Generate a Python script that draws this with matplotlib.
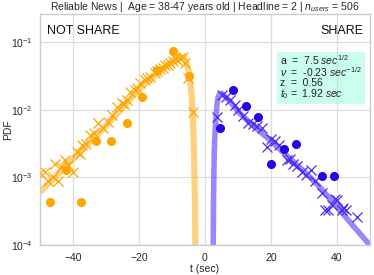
import matplotlib
matplotlib.use('Agg')
import matplotlib.pyplot as plt
import seaborn as sns

# ---- data ----
# NOT SHARE (negative t): empirical points, simulated points, fitted curve
ns_dot_t = [-47.0, -37.7, -42.2, -33.0, -28.4, -23.7, -19.0, -14.5, -9.8, -4.95]
ns_dot_y = [4.3e-4, 4.3e-4, 1.3e-3, 3.45e-3, 3.45e-3, 6.45e-3, 1.55e-2, 3.85e-2, 7.4e-2, 3.2e-2]

ns_x_t = [-50.0, -48.5, -47.5, -46.0, -45.5, -44.4, -43.5, -42.4, -41.5, -39.9, -38.9,
          -38.0, -37.4, -36.2, -34.8, -33.6, -32.3, -30.8, -29.3, -28.2, -26.8, -25.2,
          -24.4, -23.7, -22.7, -21.2, -20.5, -19.7, -18.2, -17.5, -16.7, -15.2, -14.4,
          -13.6, -12.8, -12.1, -11.3, -10.6, -9.8, -9.1, -8.4, -7.6, -6.8, -6.1,
          -5.05, -3.55]
ns_x_y = [1.15e-3, 1.2e-3, 8.8e-4, 1.0e-3, 1.6e-3, 8.7e-4, 1.4e-3, 1.8e-3, 1.5e-3, 1.2e-3,
          2.4e-3, 2.2e-3, 3.0e-3, 3.1e-3, 4.3e-3, 4.6e-3, 6.3e-3, 5.3e-3, 6.6e-3, 8.5e-3,
          1.1e-2, 1.25e-2, 1.2e-2, 1.4e-2, 1.85e-2, 1.95e-2, 2.1e-2, 2.45e-2, 2.75e-2,
          2.9e-2, 3.1e-2, 3.45e-2, 3.7e-2, 4.05e-2, 4.2e-2, 4.55e-2, 4.6e-2, 4.85e-2,
          5.2e-2, 5.75e-2, 5.5e-2, 5.75e-2, 6.0e-2, 4.85e-2, 2.9e-2, 9.3e-3]

ns_fit_t = [-50.0, -39.9, -29.8, -19.7, -9.6, -7.6, -6.4, -5.55, -4.9, -4.35, -3.95,
            -3.7, -3.5, -3.33, -3.15, -3.0, -2.92]
ns_fit_y = [6.1e-4, 1.9e-3, 5.9e-3, 2.07e-2, 5.4e-2, 6.1e-2, 5.7e-2, 4.8e-2, 3.7e-2,
            2.4e-2, 1.4e-2, 8.5e-3, 4.5e-3, 2.3e-3, 9.0e-4, 3.5e-4, 1.0e-4]

# SHARE (positive t)
sh_dot_t = [4.55, 8.6, 12.3, 16.2, 20.0, 23.9, 27.6, 35.4, 39.2]
sh_dot_y = [5.3e-3, 1.95e-2, 1.15e-2, 7.9e-3, 1.56e-3, 2.6e-3, 3.1e-3, 1.05e-3, 1.05e-3]

sh_x_t = [3.73, 5.25, 6.4, 7.6, 9.1, 10.1, 11.5, 13.1, 14.6, 15.8, 17.2, 18.7, 20.0,
          21.2, 22.5, 24.8, 25.8, 26.8, 28.0, 29.3, 30.5, 32.3, 33.3, 35.4, 36.4, 37.4,
          38.4, 39.4, 39.9, 41.4, 41.9, 42.9, 46.0]
sh_x_y = [7.9e-3, 1.65e-2, 1.55e-2, 1.39e-2, 1.17e-2, 9.9e-3, 8.0e-3, 6.3e-3, 6.1e-3,
          5.7e-3, 5.3e-3, 2.8e-3, 3.7e-3, 3.4e-3, 3.0e-3, 1.8e-3, 1.9e-3, 1.6e-3,
          1.45e-3, 1.2e-3, 1.1e-3, 1.29e-3, 8.7e-4, 5.8e-4, 3.3e-4, 3.3e-4, 3.9e-4,
          4.8e-4, 4.6e-4, 3.3e-4, 3.5e-4, 3.3e-4, 2.6e-4]

sh_fit_t = [2.5, 2.6, 2.82, 3.05, 3.33, 3.65, 4.03, 4.5, 5.05, 7.5, 10.1, 15.0, 20.2,
            25.0, 30.3, 35.0, 40.4, 45.0, 50.0]
sh_fit_y = [1.0e-4, 5.0e-4, 2.4e-3, 4.6e-3, 7.5e-3, 1.2e-2, 1.56e-2, 1.72e-2, 1.75e-2,
            1.35e-2, 9.3e-3, 5.6e-3, 3.4e-3, 2.05e-3, 1.2e-3, 7.0e-4, 3.5e-4, 1.9e-4, 1.0e-4]

param_lines = [r"a  =  7.5 $sec^{1/2}$",
               r"$\nu$  =  -0.23 $sec^{-1/2}$",
               r"z  =  0.56",
               r"$t_0$ =  1.92 $sec$"]

title = r"Reliable News |  Age = 38-47 years old | Headline = 2 | $n_{users}$ = 506"

# ---- style ----
sns.set_style("whitegrid")
plt.rcParams['font.family'] = ['Liberation Sans', 'DejaVu Sans']
plt.rcParams['mathtext.fontset'] = 'custom'
plt.rcParams['mathtext.rm'] = 'Liberation Sans'
plt.rcParams['mathtext.it'] = 'Liberation Sans:italic'
plt.rcParams['mathtext.bf'] = 'Liberation Sans:bold'

orange = '#FFA500'
violet_dot = '#2a00e6'
violet_x = '#4a2af0'
violet_line = '#7d5cff'

fig = plt.figure(figsize=(3.74, 2.75), dpi=100)
ax = fig.add_axes([0.107, 0.109, 0.882, 0.840])

ax.plot(ns_fit_t, ns_fit_y, color=orange, alpha=0.5, lw=4.5, solid_capstyle='butt')
ax.plot(ns_x_t, ns_x_y, 'x', color=orange, ms=7, mew=0.9)
ax.plot(ns_dot_t, ns_dot_y, 'o', color=orange, ms=5.5)

ax.plot(sh_fit_t, sh_fit_y, color=violet_line, alpha=0.75, lw=4, solid_capstyle='butt')
ax.plot(sh_x_t, sh_x_y, 'x', color=violet_x, ms=7, mew=0.9)
ax.plot(sh_dot_t, sh_dot_y, 'o', color=violet_dot, ms=5.5)

ax.set_yscale('log')
ax.set_xlim(-50, 50)
ax.set_ylim(1e-4, 0.26)
ax.set_xticks([-40, -20, 0, 20, 40])
ax.minorticks_off()
ax.tick_params(labelsize=7.5, pad=2, colors='#262626')
ax.grid(True, color='#dcdcdc', lw=0.9)
for sp in ax.spines.values():
    sp.set_color('#cccccc')
    sp.set_linewidth(1.0)

ax.set_xlabel("t (sec)", fontsize=7.5, labelpad=1, color='#262626')
ax.set_ylabel("PDF", fontsize=7.5, color='#262626')
ax.yaxis.set_label_coords(-0.083, 0.5)
ax.set_title(title, fontsize=7.5, pad=3, color='#262626')

ax.text(0.02, 0.926, "NOT SHARE", transform=ax.transAxes, fontsize=9,
        ha='left', va='center', color='#111111')
ax.text(0.98, 0.926, "SHARE", transform=ax.transAxes, fontsize=9,
        ha='right', va='center', color='#111111')

ax.text(0.727, 0.727, "\n".join(param_lines), transform=ax.transAxes, fontsize=7.5,
        ha='left', va='center', linespacing=0.9, color='#222222',
        bbox=dict(boxstyle='square,pad=0.3', facecolor='aquamarine', alpha=0.4,
                  edgecolor='none'))

fig.savefig("out.png", dpi=100)
